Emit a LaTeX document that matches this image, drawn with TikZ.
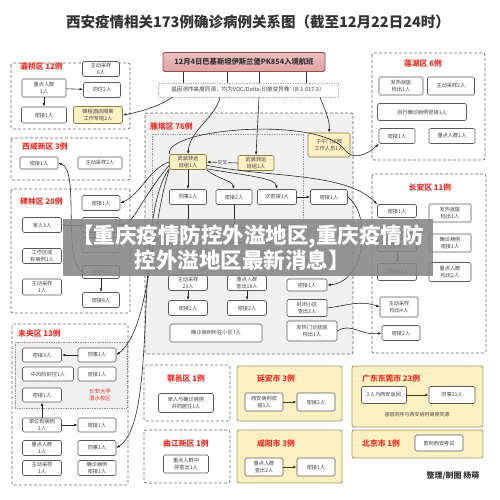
\documentclass[tikz,border=0pt]{standalone}
\usepackage{fontspec}
\setmainfont{Noto Sans CJK SC}
\usetikzlibrary{arrows.meta}
\definecolor{zred}{HTML}{E8312A}
\definecolor{hotfill}{HTML}{FBF0C2}
\definecolor{hotline}{HTML}{8C7B45}
\definecolor{flightfill}{HTML}{E2A3A3}
\definecolor{flightline}{HTML}{9B4A4A}
\definecolor{olive}{HTML}{3F3D1E}

\begin{document}
\begin{tikzpicture}[x=1pt, y=-1pt,
  cell/.style={draw=black!65, fill=white, rounded corners=1.5pt, line width=0.6pt,
    font=\fontsize{5.2}{6.2}\selectfont, text=black!75, align=center, inner sep=1pt,
    minimum height=14pt, minimum width=38pt},
  hot/.style={cell, fill=hotfill, draw=hotline},
  zone/.style={draw=black!60, dashed, dash pattern=on 3pt off 2pt, line width=0.7pt, rounded corners=2pt},
  zonehot/.style={draw=hotline!80, fill=hotfill, line width=0.8pt, rounded corners=2pt},
  ztitle/.style={font=\fontsize{7.8}{9}\selectfont\bfseries, text=zred, inner sep=0pt},
  link/.style={draw=black!85, line width=0.6pt, -{Latex[length=3.6pt,width=2.6pt]}},
  olink/.style={draw=olive, line width=0.8pt, -{Latex[length=3.6pt,width=2.8pt]}}]
\useasboundingbox (0,0) rectangle (500,499);

% title and source
\node[font=\fontsize{14.5}{16}\selectfont\bfseries, text=black!80] (title) at (258,22)
  {西安疫情相关173例确诊病例关系图（截至12月22日24时）};
\node[draw=flightline, top color=flightfill!70, bottom color=flightfill, line width=0.8pt,
  rounded corners=1.5pt, minimum width=162pt, minimum height=19pt,
  font=\fontsize{7.3}{8}\selectfont\bfseries, text=black!80] (flight) at (244,62)
  {12月4日巴基斯坦伊斯兰堡PK854入境航班};
\node[draw=black!30, densely dotted, line width=0.7pt, minimum width=180pt, minimum height=14pt,
  font=\fontsize{5.6}{6}\selectfont, text=black!75, inner sep=1pt] (gene) at (248,90)
  {基因测序高度同源，均为VOC/Delta-印度变异株（B.1.617.2）};
\foreach \dx in {-61,-17,15,62}
  \draw[black!80, line width=0.7pt] ([xshift=\dx pt]flight.south) -- ([xshift=\dx pt - 4pt]gene.north);

% 灞桥区
\draw[zone] (11,63) rectangle (130,129);
\node[ztitle, anchor=west] (bqtitle) at (20,67) {灞桥区 12例};
\node[cell, minimum width=37pt, minimum height=15pt] (bqsample) at (101,69) {主动采样\\6人};
\node[cell, minimum width=44pt, minimum height=18pt] (bqkey) at (44,88) {重点人群\\1人};
\node[cell, minimum width=37pt, minimum height=15pt] (bqcohab) at (102,90) {同住2人};
\node[cell, minimum width=45pt, minimum height=16pt] (bqclose) at (44,115) {密接1人};
\node[hot, minimum width=49pt, minimum height=17pt] (bqhotel) at (98,115) {锦程酒店隔离\\工作专班2人};
\draw[link] (bqkey) -- (bqcohab);
\draw[link] (bqkey) -- (bqclose);

% 西咸新区
\draw[zone] (11,138) rectangle (130,180);
\node[ztitle, anchor=west] (xxtitle) at (22,147) {西咸新区 3例};
\node[cell, minimum height=12pt] (xxclose) at (39,163) {密接1人};
\node[cell, minimum width=44pt, minimum height=12pt] (xxsample) at (100,163) {主动采样2人};

% 碑林区
\draw[zone] (11,189) rectangle (130,313);
\node[ztitle, anchor=west] (bltitle) at (20,202) {碑林区 20例};
\node[cell, minimum height=15pt] (blclose) at (101,203) {密接1人};
\node[cell, minimum width=39pt, minimum height=15pt] (blfam) at (42,225) {家人3人};
\node[cell, minimum height=15pt] (blhid) at (101,225) {};
\node[cell, minimum height=15pt] (blc3) at (101,245) {密接3人};
\node[cell, minimum width=39pt, minimum height=15pt] (blwork) at (42,256) {工作区域\\有病例1人};
\node[cell, minimum width=37pt, minimum height=13pt] (blc4) at (101,272) {密接4人};
\node[cell, minimum width=39pt, minimum height=16pt] (blsample) at (42,287) {主动采样\\1人};
\node[cell, minimum width=37pt, minimum height=15pt] (blc8) at (101,300) {密接8人};
\draw[link] (blhid) -- (blfam);
\draw[link] (blc4) -- (blc8);

% 未央区
\draw[zone] (12,324) rectangle (128,485);
\node[ztitle, anchor=west] (wytitle) at (18,334) {未央区 13例};
\draw[fill=black!6, draw=black!45, densely dotted, line width=0.7pt] (15,342) rectangle (127,408);
\node[cell, minimum width=39pt] (wyc3) at (42,355) {密接3人};
\node[cell] (wymate1) at (97,355) {同事1人};
\node[cell, minimum width=51pt] (wyrisk) at (48,374) {中风险封控1人};
\node[cell] (wyclose1) at (97,374) {密接1人};
\node[cell, minimum width=39pt] (wyclose2) at (42,395) {密接1人};
\node[font=\fontsize{5.4}{6.4}\selectfont, text=zred, align=center] (campus) at (100,395) {长安大学\\渭水校区};
\node[cell, minimum width=39pt] (wyunit) at (42,425) {单位有病例\\1人};
\node[cell] (wyclose3) at (97,425) {密接1人};
\node[cell, minimum width=39pt, minimum height=15pt] (wykey) at (42,448) {重点人群\\1人};
\node[cell, minimum height=15pt] (wymate2) at (97,448) {同事1人};
\node[cell, minimum width=39pt, minimum height=15pt] (wysample) at (42,468) {主动采样\\1人};
\node[cell, minimum height=15pt] (wycontact) at (97,468) {确诊病例\\密接1人};
\draw[link] (wymate1) -- (wyc3);
\draw[link] (wyunit) -- (wyclose2);
\draw[link] (wyunit) -- (wyclose3);

% 雁塔区
\draw[zone, fill=black!6] (145,113) rectangle (353,354);
\draw[draw=black!40, densely dotted, line width=0.7pt] (152,134) rectangle (303,255);
\node[ztitle, anchor=west] (yttitle) at (150,127) {雁塔区 76例};
\node[hot, minimum width=37pt, minimum height=15pt] (yt1) at (188,162) {武装转运\\班组1人};
\node[hot, minimum width=36pt, minimum height=15pt] (yt2) at (256,163) {武装转运\\班组1人};
\node[hot, minimum width=42pt, minimum height=24pt] (ytzw) at (329,145) {子午门诊部\\工作人员1人};
\node[cell, minimum width=37pt, minimum height=15pt] (ytmate) at (188,197) {同事2人};
\node[cell, minimum width=36pt, minimum height=15pt] (ytc2a) at (234,197) {密接2人};
\node[cell, minimum width=39pt, minimum height=15pt] (ytsec) at (277,197) {次密接1人};
\node[cell, minimum width=37pt, minimum height=15pt] (ytc1) at (329,197) {密接1人};
% boxes hidden under the banner
\node[cell, minimum width=35pt, minimum height=15pt] (ythid1) at (188,235) {};
\node[cell, minimum width=35pt, minimum height=15pt] (ythid2) at (234,235) {};
\node[cell, minimum width=35pt, minimum height=15pt] (ythid3) at (278,235) {};
\node[cell, minimum width=39pt, minimum height=15pt] (ytsamp) at (188,283) {主动采样\\23人};
\node[cell, minimum width=39pt, minimum height=15pt] (ytkey) at (247,283) {重点人群\\查出18人};
\node[cell, minimum width=40pt, minimum height=12pt] (ytc1b) at (307,285) {密接1人};
\node[cell, minimum width=39pt, minimum height=15pt] (ytc2b) at (188,308) {密接2人};
\node[cell, minimum width=39pt, minimum height=15pt] (ytc2c) at (247,308) {密接2人};
\node[cell, minimum width=40pt, minimum height=17pt] (ytcomm) at (307,308) {封闭小区\\查出3人};
\node[cell, minimum width=92pt, minimum height=18pt] (ytres) at (216,333) {确诊病例所在小区7人};
\node[cell, minimum width=50pt, minimum height=20pt] (ytfever) at (312,331) {发热门诊就医\\检出1人};
\draw[link] (yt2.west) -- node[fill=black!6, font=\fontsize{5}{6}\selectfont, text=black!75, inner sep=0.4pt] (cross) {交叉} (yt1.east);
\draw[link] (yt1.south) -- (ytmate.north);
\draw[link] (yt1.south east) .. controls (215,178) and (232,180) .. (ytc2a.north);
\draw[link] (yt1.-20) .. controls (250,176) and (275,178) .. (ytsec.north);
\draw[link] (ytsec) -- (ytc1);
\draw[link] (ytmate) -- (ythid1);
\draw[link] (ytc2a.south) -- (ythid2.north);
\draw[link] (ytsamp) -- (ytc2b);
\draw[link] (ytkey) -- (ytc2c);

% 莲湖区
\draw[zone] (372,53) rectangle (485,160);
\node[ztitle] (lhtitle) at (423,64) {莲湖区 6例};
\node[cell, minimum width=44pt, minimum height=18pt] (lhfever) at (401,86) {发热就医\\检出1人};
\node[cell, minimum width=47pt, minimum height=18pt] (lhsample) at (451,86) {主动采样2人};
\node[cell, minimum width=89pt, minimum height=17pt] (lhcontact) at (422,112) {自行确诊病例密接1人};
\node[cell, minimum width=36pt, minimum height=15pt] (lhclose) at (397,136) {密接1人};
\node[cell, minimum width=46pt, minimum height=15pt] (lhkey) at (452,136) {重点人群1人};

% 长安区
\draw[zone] (372,174) rectangle (486,353);
\node[ztitle] (catitle) at (430,188) {长安区 11例};
\node[cell, minimum width=39pt, minimum height=13pt] (caclose) at (397,211) {密接1人};
\node[cell, minimum width=42pt, minimum height=18pt] (cafever) at (450,213) {发热就医\\检出1人};
\node[cell, minimum width=39pt, minimum height=19pt] (cahid) at (397,242) {重点人群\\检出1人};
\node[cell, minimum width=42pt, minimum height=18pt] (cacont) at (450,243) {确诊病例\\密接1人};
\node[cell, minimum width=39pt, minimum height=17pt] (cabld) at (397,272) {同楼栋1人};
\node[cell, minimum width=42pt, minimum height=19pt] (cakey) at (450,272) {重点人群\\检出2人};
\node[cell, minimum width=38pt, minimum height=20pt] (casamp) at (399,307) {主动采样\\检出4人};
\node[cell, minimum width=38pt, minimum height=15pt] (cac2) at (401,333) {密接2人};
\draw[link] (cahid) -- (cabld);

% links leaving the source and 雁塔区
\draw[link] ([xshift=-76pt]gene.south) .. controls (160,106) and (140,112) .. (bqhotel.east);
\draw[link] ([xshift=-28pt]gene.south) .. controls (215,118) and (190,130) .. (yt1.north);
\draw[link] ([xshift=11pt]gene.south) -- (yt2.north);
\draw[link] ([xshift=72pt]gene.south) .. controls (325,110) and (330,120) .. (ytzw.north);
\draw[link] (yt1.west) .. controls (150,168) and (140,195) .. (blclose.east);
\draw[link] (yt1.north west) .. controls (165,128) and (320,116) .. (345,150)
  .. controls (352,160) and (366,156) .. (lhclose.south west);
\draw[link] (yt1.-10) .. controls (270,178) and (345,172) .. (caclose.north west);
\draw[link] (yt1.south west) .. controls (150,230) and (150,330) .. (wymate1.east);
\draw[link] (yt1.200) .. controls (132,220) and (160,420) .. (wymate2.east);
\draw[link] (yt1.190) .. controls (140,200) and (135,222) .. (blhid.east);
\draw[link] (blc4.west) .. controls (62,260) and (80,170) .. (xxclose.east);
\draw[link] (ytc1.east) .. controls (372,215) and (366,282) .. (ytc1b.east);
\draw[link] (ytcomm.east) .. controls (350,305) and (360,300) .. (casamp.west);
\draw[link] (ytfever.east) .. controls (352,322) and (360,336) .. (cac2.west);

% 鄠邑区 and 曲江新区
\draw[zone] (144,365) rectangle (230,421);
\node[ztitle] (hytitle) at (186,379) {鄠邑区 1例};
\node[cell, minimum width=55pt, minimum height=19pt] (hyfam) at (186,403) {家人与确诊病例\\共同居住1人};
\draw[zone] (144,430) rectangle (230,483);
\node[ztitle] (qjtitle) at (186,443) {曲江新区 1例};
\node[cell, minimum width=45pt, minimum height=18pt] (qjkey) at (186,464) {重点人群中\\排查出1人};

% 延安市 and 咸阳市
\draw[zonehot] (237,366) rectangle (342,421);
\node[ztitle] (yatitle) at (276,379) {延安市 3例};
\node[cell, minimum height=18pt] (ya1) at (264,402) {西安病例密\\接1人};
\node[cell, minimum height=18pt] (ya2) at (316,402) {密接2人};
\draw[olink] (ya1) -- (ya2);
\draw[zonehot] (237,430) rectangle (342,483);
\node[ztitle] (xytitle) at (276,443) {咸阳市 3例};
\node[cell, minimum height=18pt] (xy1) at (264,467) {重点人群\\查出2人};
\node[cell, minimum height=18pt] (xy2) at (316,467) {密接1人};
\draw[olink] (xy1) -- (xy2);

% 广东东莞市 and 北京市
\draw[zonehot] (352,366) rectangle (483,427);
\node[ztitle, anchor=west] (dgtitle) at (362,379) {广东东莞市 23例};
\node[cell, minimum width=45pt, minimum height=17pt] (dgback) at (384,395) {2人为西安返回};
\node[cell, minimum width=46pt, minimum height=17pt] (dgmate) at (452,395) {同事21人};
\draw[olink] (dgback) -- (dgmate);
\node[font=\fontsize{5}{6}\selectfont, text=black!70] (dgnote) at (417,415) {基因测序与西安病例高度同源};
\draw[zonehot] (352,430) rectangle (483,458);
\node[ztitle, anchor=west] (bjtitle) at (362,443) {北京市 1例};
\node[cell, minimum width=48pt, minimum height=16pt] (bjexam) at (439,443) {曾到西安考试};
\node[font=\fontsize{8}{9}\selectfont\bfseries, text=black!80] (credit) at (453,476) {整理/制图 杨萌};

% banner over the middle
\fill[black!48, opacity=0.88] (63,219) rectangle (433,276);
\node[font=\fontsize{21.5}{23}\selectfont\bfseries, text=white] (banner1) at (248,237) {【重庆疫情防控外溢地区,重庆疫情防};
\node[font=\fontsize{21.5}{23}\selectfont\bfseries, text=white] (banner2) at (242,260) {控外溢地区最新消息】};
\end{tikzpicture}
\end{document}
